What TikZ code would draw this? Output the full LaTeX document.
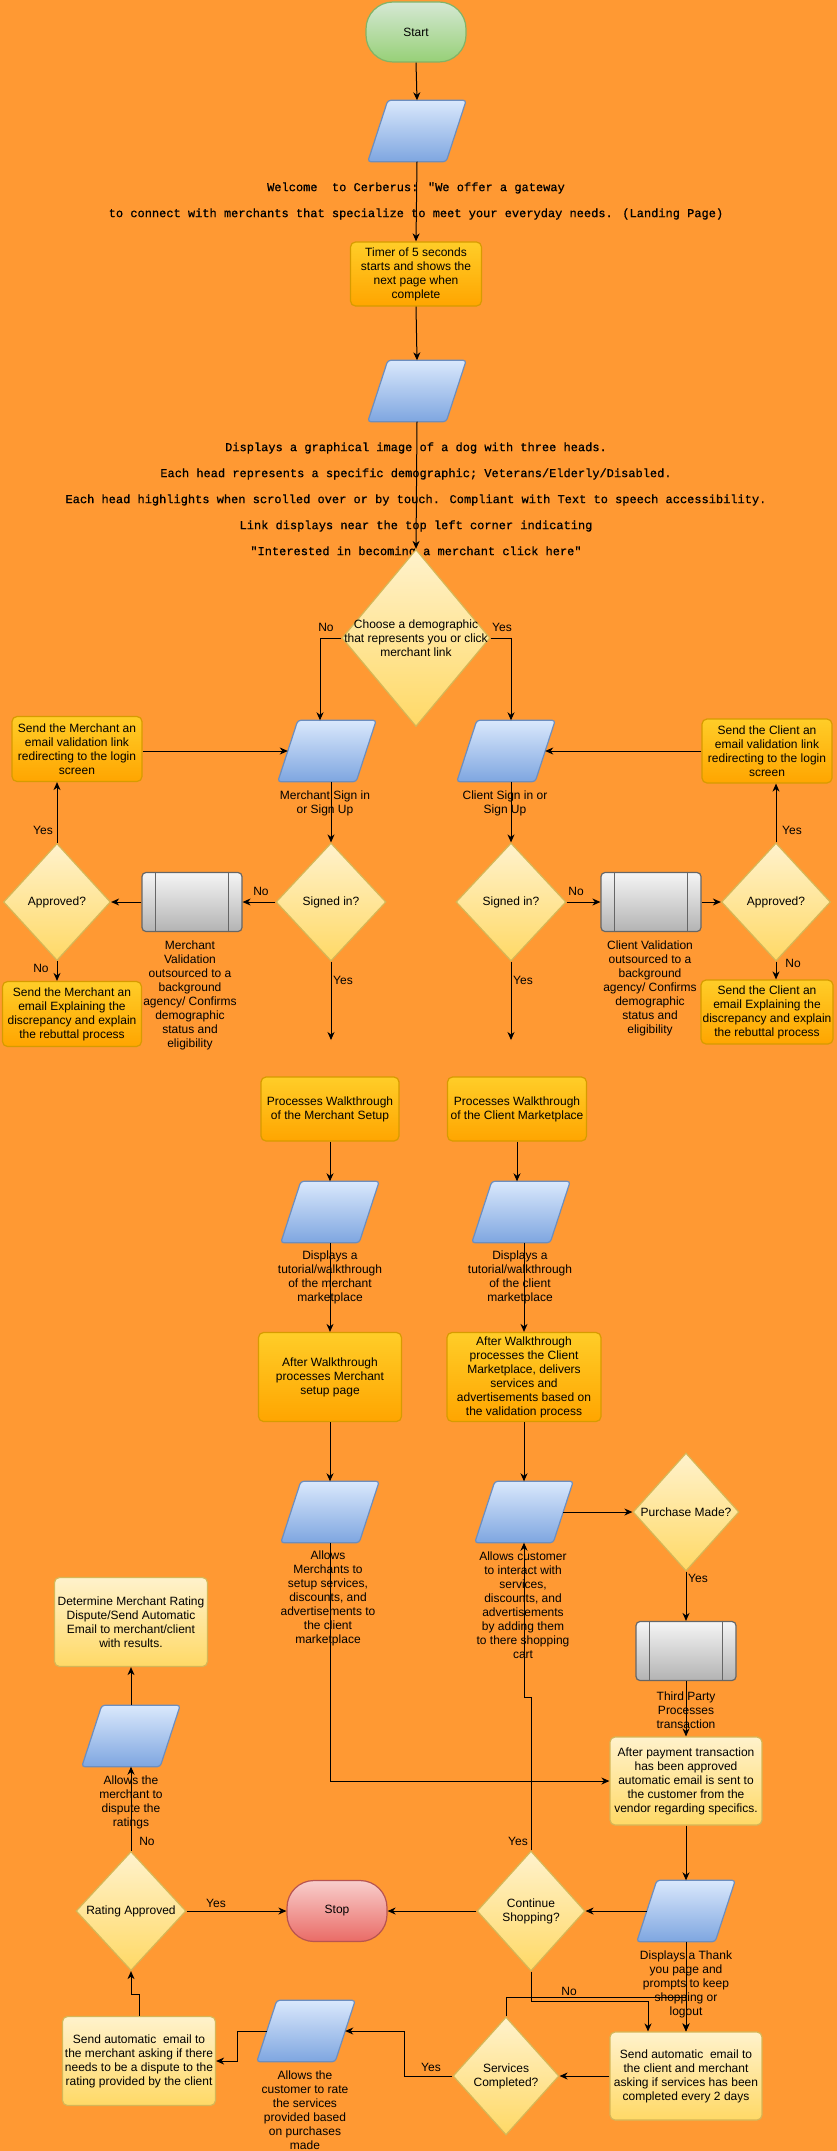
\documentclass[tikz,border=0pt]{standalone}
\usepackage{fontspec}
\setmainfont{Liberation Sans}
\newfontfamily\monofont[RawFeature={embolden=0.7}]{Liberation Mono}
\usetikzlibrary{shapes.geometric,arrows.meta,calc}

\definecolor{bg}{HTML}{FF9933}
\definecolor{oraA}{HTML}{FFCD28}
\definecolor{oraB}{HTML}{FFA500}
\definecolor{oraE}{HTML}{D79B00}
\definecolor{ylA}{HTML}{FFF2CC}
\definecolor{ylB}{HTML}{FFD966}
\definecolor{ylE}{HTML}{D6B656}
\definecolor{blA}{HTML}{DAE8FC}
\definecolor{blB}{HTML}{7EA6E0}
\definecolor{blE}{HTML}{6C8EBF}
\definecolor{grA}{HTML}{D5E8D4}
\definecolor{grB}{HTML}{97D077}
\definecolor{grE}{HTML}{82B366}
\definecolor{gyA}{HTML}{F5F5F5}
\definecolor{gyB}{HTML}{B3B3B3}
\definecolor{gyE}{HTML}{666666}
\definecolor{rdA}{HTML}{F8CECC}
\definecolor{rdB}{HTML}{EA6B66}
\definecolor{rdE}{HTML}{B85450}

\tikzset{
  x=1pt, y=-1pt,
  every node/.style={font=\fontsize{12}{14}\selectfont, inner sep=0pt, align=center},
  monotext/.style={font=\monofont\fontsize{12}{26}\selectfont},
  conn/.style={draw=black, line width=1pt, -{Stealth[length=8pt,width=7pt,inset=2.5pt]}},
  orangebox/.style={rectangle, rounded corners=5pt, top color=oraA, bottom color=oraB, draw=oraE, line width=1.2pt},
  lightbox/.style={rectangle, rounded corners=5pt, top color=ylA, bottom color=ylB, draw=ylE, line width=1.2pt},
  decision/.style={diamond, top color=ylA, bottom color=ylB, draw=ylE, line width=1.2pt},
  predef/.style={rectangle, rounded corners=4pt, top color=gyA, bottom color=gyB, draw=gyE, line width=1.2pt, minimum width=100pt, minimum height=59pt},
  startbox/.style={rectangle, rounded corners=27pt, top color=grA, bottom color=grB, draw=grE, line width=1.2pt, minimum width=100pt, minimum height=60pt},
  stopbox/.style={rectangle, rounded corners=27pt, top color=rdA, bottom color=rdB, draw=rdE, line width=1.2pt, minimum width=100pt, minimum height=61pt},
  iobody/.style={rectangle, minimum width=78pt, minimum height=61pt},
  ioface/.style={top color=blA, bottom color=blB, draw=blE, line width=1.2pt, rounded corners=3pt},
}

% data (input/output) parallelogram: #1 name, #2 x, #3 y
\newcommand\iopara[3]{%
  \node[iobody] (#1) at (#2,#3) {};
  \path[ioface] ([xshift=-10pt]#1.south west) -- ([xshift=-10pt]#1.south east)
     -- ([xshift=10pt]#1.north east) -- ([xshift=10pt]#1.north west) -- cycle;
}
% predefined process with its two inner bars: #1 name, #2 x, #3 y
\newcommand\predefbox[3]{%
  \node[predef] (#1) at (#2,#3) {};
  \draw[gyE, line width=1.2pt] ([xshift=14pt]#1.north west) -- ([xshift=14pt]#1.south west)
     ([xshift=-14pt]#1.north east) -- ([xshift=-14pt]#1.south east);
}

\begin{document}
\begin{tikzpicture}
\useasboundingbox[fill=bg] (0,0) rectangle (837,2151);

% ---------- landing ----------
\node[startbox] (start) at (416,32) {Start};
\iopara{p1}{417}{131}
\node[monotext] (welcome) at (416,201) {Welcome\ \ to Cerberus: "We offer a gateway\\to connect with merchants that specialize to meet your everyday needs. (Landing Page)};
\node[orangebox, minimum width=131pt, minimum height=64pt] (timer) at (416,274) {Timer of 5 seconds\\starts and shows the\\next page when\\complete};
\iopara{p2}{417}{391}
\node[monotext] (dogtext) at (416,500) {Displays a graphical image of a dog with three heads.\\Each head represents a specific demographic; Veterans/Elderly/Disabled.\\Each head highlights when scrolled over or by touch. Compliant with Text to speech accessibility.\\Link displays near the top left corner indicating\\"Interested in becoming a merchant click here"};
\node[decision, minimum width=148pt, minimum height=177pt] (demo) at (416,638) {};
\node (demo-t) at (demo) {Choose a demographic\\that represents you or click\\merchant link};

% ---------- sign in ----------
\iopara{mpara}{327}{751}
\node (mpara-l) at (325,803) {Merchant Sign in\\or Sign Up};
\iopara{cpara}{506}{751}
\node (cpara-l) at (505,803) {Client Sign in or\\Sign Up};

\node[orangebox, minimum width=130pt, minimum height=65pt] (mval) at (77,749) {Send the Merchant an\\email validation link\\redirecting to the login\\screen};
\node[orangebox, minimum width=130pt, minimum height=64pt] (cval) at (767,751) {Send the Client an\\email validation link\\redirecting to the login\\screen};

\node[decision, minimum width=110pt, minimum height=118pt] (msign) at (331,902) {};
\node (msign-t) at (msign) {Signed in?};
\node[decision, minimum width=110pt, minimum height=118pt] (csign) at (511,902) {};
\node (csign-t) at (csign) {Signed in?};

\predefbox{mgrey}{192}{902}
\node (mgrey-l) at (190,995) {Merchant\\Validation\\outsourced to a\\background\\agency/ Confirms\\demographic\\status and\\eligibility};
\predefbox{cgrey}{651}{902}
\node (cgrey-l) at (650,988) {Client Validation\\outsourced to a\\background\\agency/ Confirms\\demographic\\status and\\eligibility};

\node[decision, minimum width=107pt, minimum height=117pt] (mappr) at (57,902) {};
\node (mappr-t) at (mappr) {Approved?};
\node[decision, minimum width=109pt, minimum height=118pt] (cappr) at (776,902) {};
\node (cappr-t) at (cappr) {Approved?};

\node[orangebox, minimum width=139pt, minimum height=65pt] (mexpl) at (72,1014) {Send the Merchant an\\email Explaining the\\discrepancy and explain\\the rebuttal process};
\node[orangebox, minimum width=132pt, minimum height=64pt] (cexpl) at (767,1012) {Send the Client an\\email Explaining the\\discrepancy and explain\\the rebuttal process};

\coordinate (mend) at (331,1040);
\coordinate (cend) at (511,1040);

% ---------- walkthroughs ----------
\node[orangebox, minimum width=138pt, minimum height=64pt] (mwalk) at (330,1109) {Processes Walkthrough\\of the Merchant Setup};
\node[orangebox, minimum width=139pt, minimum height=64pt] (cwalk) at (517,1109) {Processes Walkthrough\\of the Client Marketplace};
\iopara{mp2}{330}{1212}
\node (mp2-l) at (330,1277) {Displays a\\tutorial/walkthrough\\of the merchant\\marketplace};
\iopara{cp2}{521}{1212}
\node (cp2-l) at (520,1277) {Displays a\\tutorial/walkthrough\\of the client\\marketplace};
\node[orangebox, minimum width=143pt, minimum height=89pt] (mafter) at (330,1377) {After Walkthrough\\processes Merchant\\setup page};
\node[orangebox, minimum width=154pt, minimum height=89pt] (cafter) at (524,1377) {After Walkthrough\\processes the Client\\Marketplace, delivers\\services and\\advertisements based on\\the validation process};

% ---------- marketplace ----------
\iopara{mp3}{330}{1512}
\node (mp3-l) at (328,1598) {Allows\\Merchants to\\setup services,\\discounts, and\\advertisements to\\the client\\marketplace};
\iopara{cp3}{524}{1512}
\node (cp3-l) at (523,1605) {Allows customer\\to interact with\\services,\\discounts, and\\advertisements\\by adding them\\to there shopping\\cart};
\node[decision, minimum width=106pt, minimum height=118pt] (purch) at (686,1512) {};
\node (purch-t) at (purch) {Purchase Made?};
\predefbox{tp}{686}{1651}
\node (tp-l) at (686,1710) {Third Party\\Processes\\transaction};
\node[lightbox, minimum width=152pt, minimum height=88pt] (pay) at (686,1781) {After payment transaction\\has been approved\\automatic email is sent to\\the customer from the\\vendor regarding specifics.};

% ---------- rating ----------
\node[lightbox, minimum width=153pt, minimum height=89pt] (det) at (131,1622) {Determine Merchant Rating\\Dispute/Send Automatic\\Email to merchant/client\\with results.};
\iopara{dp}{131}{1736}
\node (dp-l) at (131,1802) {Allows the\\merchant to\\dispute the\\ratings};
\node[decision, minimum width=110pt, minimum height=119pt] (rate) at (131,1911) {};
\node (rate-t) at (rate) {Rating Approved};
\node[stopbox] (stop) at (337,1911) {Stop};
\node[decision, minimum width=108pt, minimum height=120pt] (cont) at (531,1911) {};
\node (cont-t) at (cont) {Continue\\Shopping?};
\iopara{ty}{686}{1911}
\node (ty-l) at (686,1984) {Displays a Thank\\you page and\\prompts to keep\\shopping or\\logout};
\node[lightbox, minimum width=152pt, minimum height=88pt] (em2) at (686,2076) {Send automatic\ \ email to\\the client and merchant\\asking if services has been\\completed every 2 days};
\node[decision, minimum width=106pt, minimum height=118pt] (svc) at (506,2076) {};
\node (svc-t) at (svc) {Services\\Completed?};
\iopara{rp}{306}{2031}
\node (rp-l) at (305,2110) {Allows the\\customer to rate\\the services\\provided based\\on purchases\\made};
\node[lightbox, minimum width=153pt, minimum height=89pt] (mem) at (139,2061) {Send automatic\ \ email to\\the merchant asking if there\\needs to be a dispute to the\\rating provided by the client};

% bend points of routed connectors
\coordinate (cjog) at (531,1697);
\coordinate (nojog) at (531,2001);
\coordinate (svcjog) at (686,1997);
\coordinate (yesjog) at (404,2076);
\coordinate (ratejog) at (237,2031);
\coordinate (memjog) at (139,1994);

% ---------- connectors ----------
\draw[conn] (start.south) -- (p1.north);
\draw[conn] (p1.south) -- (timer.north);
\draw[conn] (timer.south) -- (p2.north);
\draw[conn] (p2.south) -- (demo.north);
\draw[conn] (demo.west) -| ([xshift=-7pt]mpara.north);
\draw[conn] (demo.east) -| ([xshift=5pt]cpara.north);

\draw[conn] (mval.east |- mpara.west) -- (mpara.west);
\draw[conn] (cval.west) -- (cpara.east);
\draw[conn] (msign.north |- mpara.south) -- (msign.north);
\draw[conn] (csign.north |- cpara.south) -- (csign.north);
\draw[conn] (msign.west) -- (mgrey.east);
\draw[conn] (mgrey.west) -- (mappr.east);
\draw[conn] (mappr.north) -- (mappr.north |- mval.south);
\draw[conn] (mappr.south) -- (mappr.south |- mexpl.north);
\draw[conn] (csign.east) -- (cgrey.west);
\draw[conn] (cgrey.east) -- (cappr.west);
\draw[conn] (cappr.north) -- (cappr.north |- cval.south);
\draw[conn] (cappr.south) -- (cappr.south |- cexpl.north);
\draw[conn] (msign.south) -- (mend);
\draw[conn] (csign.south) -- (cend);

\draw[conn] (mwalk.south) -- (mp2.north);
\draw[conn] (cwalk.south) -- (cwalk.south |- cp2.north);
\draw[conn] (mp2.south) -- (mafter.north);
\draw[conn] (cafter.north |- cp2.south) -- (cafter.north);
\draw[conn] (mafter.south) -- (mp3.north);
\draw[conn] (cafter.south) -- (cp3.north);

\draw[conn] (cp3.east) -- (purch.west);
\draw[conn] (purch.south) -- (tp.north);
\draw[conn] (tp.south) -- (pay.north);
\draw[conn] (mp3.south) |- (pay.west);
\draw[conn] (pay.south) -- (ty.north);
\draw[conn] (ty.west) -- (cont.east);
\draw[conn] (cont.west) -- (stop.east);
\draw[conn] (cont.north) -- (cjog) -| (cp3.south);
\draw[conn] (ty.south) -- (em2.north);
\draw[conn] (cont.south) -- (nojog) -| ([xshift=-38pt]em2.north);
\draw[conn] (svc.north) |- (svcjog) -- (em2.north);
\draw[conn] (em2.west) -- (svc.east);
\draw[conn] (svc.west) -- (yesjog) |- (rp.east);
\draw[conn] (rp.west) -- (ratejog) |- (mem.east);
\draw[conn] (mem.north) -- (memjog) -| (rate.south);
\draw[conn] (rate.east) -- (stop.west);
\draw[conn] (rate.north) -- (dp.south);
\draw[conn] (dp.north) -- (det.south);

% ---------- branch labels ----------
\node (l-no1) at (326,627) {No};
\node (l-yes1) at (502,627) {Yes};
\node (l-myes) at (43,830) {Yes};
\node (l-mno) at (41,968) {No};
\node (l-msno) at (261,891) {No};
\node (l-msyes) at (343,980) {Yes};
\node (l-csno) at (576,891) {No};
\node (l-cyes) at (792,830) {Yes};
\node (l-cno) at (793,963) {No};
\node (l-csyes) at (523,980) {Yes};
\node (l-pyes) at (698,1578) {Yes};
\node (l-contyes) at (518,1841) {Yes};
\node (l-rateno) at (147,1841) {No};
\node (l-rateyes) at (216,1903) {Yes};
\node (l-contno) at (569,1991) {No};
\node (l-svcyes) at (431,2067) {Yes};
\end{tikzpicture}
\end{document}
